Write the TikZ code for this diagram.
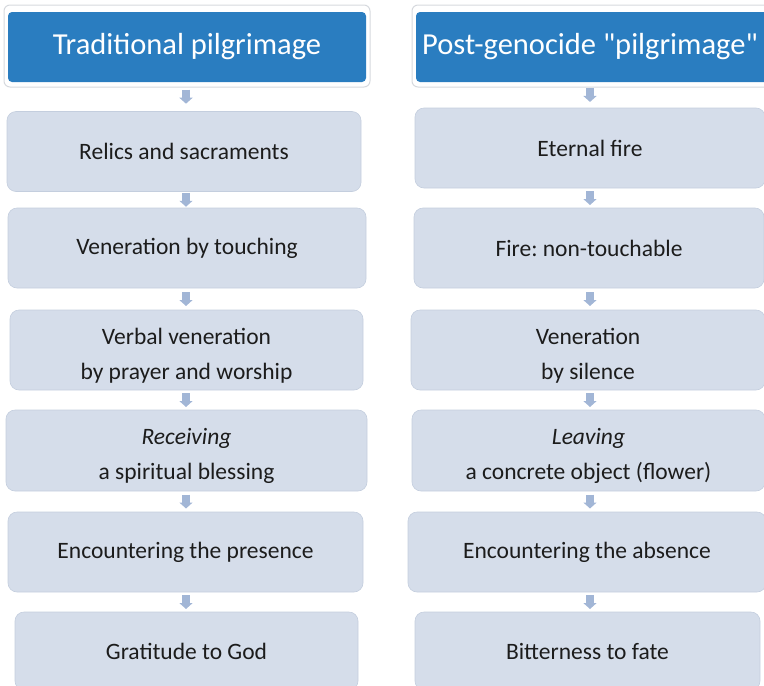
\documentclass[tikz,border=0pt]{standalone}
\usepackage{fontspec}
\setmainfont[Ligatures=TeXOff]{Carlito}
\usetikzlibrary{arrows.meta,calc}
\frenchspacing
\definecolor{headblue}{HTML}{2A7DC0}
\definecolor{headframe}{HTML}{D6D9DE}
\definecolor{boxfill}{HTML}{D5DDEA}
\definecolor{boxline}{HTML}{C4CEDE}
\definecolor{arrowblue}{HTML}{A2B6D6}
\definecolor{textdark}{HTML}{1C1C1C}
\tikzset{
  headframe/.style={draw=headframe, line width=1pt, fill=white, rounded corners=6pt},
  headbox/.style={rectangle, fill=headblue, rounded corners=4pt, text=white,
    font=\fontsize{30.5}{34}\selectfont, minimum height=70pt, inner sep=0pt},
  stepbox/.style={rectangle, fill=boxfill, draw=boxline, line width=0.6pt,
    rounded corners=9pt, text=textdark, align=center,
    font=\fontsize{23.5}{35}\selectfont, minimum height=80pt, inner sep=0pt},
  flow/.style={draw=arrowblue, line width=8pt,
    -{Triangle[width=13pt,length=6pt]}}
}
% short block arrow centred in the gap between two nodes, on a given column
\newcommand\gaparrow[3]{%
  \draw[flow] ($(#1.south -| #3)!0.5!(#2.north -| #3)+(0,-7)$) --
              ($(#1.south -| #3)!0.5!(#2.north -| #3)+(0,7)$);}
% taller first line so two-line texts sit a little lower in their boxes
\newcommand\toplift{\rule{0pt}{27pt}}
\begin{document}
\begin{tikzpicture}[x=1pt,y=-1pt]
\useasboundingbox (0,0) rectangle (764,686);
\clip (0,0) rectangle (764,686);
% column axes for the arrows
\coordinate (colL) at (186,0);
\coordinate (colR) at (590,0);

% header frames
\draw[headframe] (4,5) rectangle (370,87);
\draw[headframe] (412,5) rectangle (778,87);

% headers
\node[headbox, minimum width=358pt] (hL) at (187,47) {Traditional pilgrimage};
\node[headbox, minimum width=360pt] (hR) at (596,47) {};
\node[text=white, font=\fontsize{30.5}{34}\selectfont, inner sep=0pt] (hRt) at (590,47)
  {Post-genocide "pilgrimage"};

% left column
\node[stepbox, minimum width=354pt] (l1) at (184,151.5) {Relics and sacraments};
\node[stepbox, minimum width=358pt] (l2) at (187,248) {Veneration by touching};
\node[stepbox, minimum width=353pt] (l3) at (186.5,350) {\toplift Verbal veneration\\by prayer and worship};
\node[stepbox, minimum width=361pt, minimum height=81pt] (l4) at (186.5,450.5) {\toplift\textit{Receiving}\\a spiritual blessing};
\node[stepbox, minimum width=355pt] (l5) at (185.5,552) {Encountering the presence};
\node[stepbox, minimum width=343pt, minimum height=78pt] (l6) at (186.5,651) {Gratitude to God};

% right column
\node[stepbox, minimum width=350pt] (r1) at (590,148) {Eternal fire};
\node[stepbox, minimum width=350pt] (r2) at (589,248) {Fire: non-touchable};
\node[stepbox, minimum width=354pt] (r3) at (588,350) {\toplift Veneration\\by silence};
\node[stepbox, minimum width=353pt, minimum height=81pt] (r4) at (588.5,450.5) {\toplift\textit{Leaving}\\a concrete object (flower)};
\node[stepbox, minimum width=358pt] (r5) at (587,552) {Encountering the absence};
\node[stepbox, minimum width=345pt, minimum height=78pt] (r6) at (587.5,651) {Bitterness to fate};

% arrows
\foreach \a/\b in {hL/l1,l1/l2,l2/l3,l3/l4,l4/l5,l5/l6}
  {\gaparrow{\a}{\b}{colL}}
\foreach \a/\b in {hR/r1,r1/r2,r2/r3,r3/r4,r4/r5,r5/r6}
  {\gaparrow{\a}{\b}{colR}}
\end{tikzpicture}
\end{document}
